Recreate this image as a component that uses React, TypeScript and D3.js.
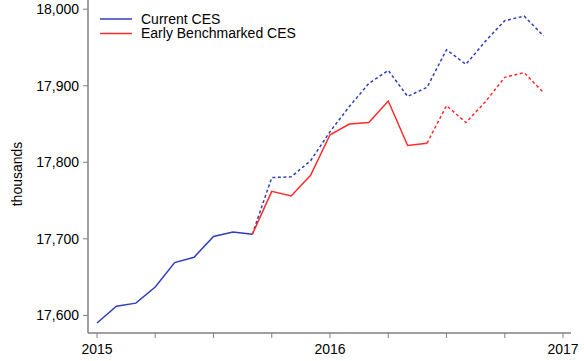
import React, { useRef, useEffect } from "react";
import * as d3 from "d3";

// monthly, Jan 2015 .. Dec 2016 (index 0..23)
const months = d3.range(24);
const currentCES = [
  17590, 17612, 17616, 17637, 17669, 17676, 17703, 17709, 17706, 17780, 17781, 17802,
  17840, 17873, 17903, 17920, 17886, 17898, 17947, 17928, 17958, 17985, 17991, 17965,
];
// starts at Sep 2015 (index 8)
const earlyCES = [
  17706, 17762, 17756, 17783, 17836, 17850, 17852, 17880, 17822, 17825, 17874, 17852,
  17879, 17911, 17917, 17891,
];
const earlyStart = 8;
const yTicks = [17600, 17700, 17800, 17900, 18000];
const xTickMonths = [0, 3, 6, 9, 12, 15, 18, 21, 24];
const xLabels: Record<number, string> = { 0: "2015", 12: "2016", 24: "2017" };

const BLUE = "#2f3fb8";
const RED = "#ff2a2a";
const AXIS = "#808080";

export default function App() {
  const svgRef = useRef<SVGSVGElement>(null);

  useEffect(() => {
    const svg = d3.select(svgRef.current);
    svg.selectAll("*").remove();
    const font = "Arial, 'Liberation Sans', sans-serif";

    const x = d3.scaleLinear().domain([0, 24]).range([97, 563]);
    const y = d3.scaleLinear().domain([17577, 18012]).range([333, 0]);

    // axes
    svg.append("line").attr("x1", 88).attr("x2", 88).attr("y1", y(18012)).attr("y2", 333)
      .attr("stroke", AXIS).attr("stroke-width", 1.5);
    svg.append("line").attr("x1", 88).attr("x2", 571).attr("y1", 333).attr("y2", 333)
      .attr("stroke", AXIS).attr("stroke-width", 1.5);

    const yg = svg.append("g");
    yg.selectAll("line").data(yTicks).join("line")
      .attr("x1", 83).attr("x2", 88).attr("y1", d => y(d)).attr("y2", d => y(d))
      .attr("stroke", AXIS);
    yg.selectAll("text").data(yTicks).join("text")
      .attr("x", 79).attr("y", d => y(d)).attr("dy", "0.35em")
      .attr("text-anchor", "end").attr("font-family", font).attr("font-size", 14)
      .text(d => d3.format(",")(d));

    const xg = svg.append("g");
    xg.selectAll("line").data(xTickMonths).join("line")
      .attr("x1", d => x(d)).attr("x2", d => x(d)).attr("y1", 333).attr("y2", 338)
      .attr("stroke", AXIS);
    xg.selectAll("text").data(xTickMonths.filter(m => xLabels[m])).join("text")
      .attr("x", d => x(d)).attr("y", 354)
      .attr("text-anchor", "middle").attr("font-family", font).attr("font-size", 14)
      .text(d => xLabels[d]);

    svg.append("text").attr("transform", "translate(22,174) rotate(-90)")
      .attr("text-anchor", "middle").attr("font-family", font).attr("font-size", 14)
      .text("thousands");

    const line = d3.line<[number, number]>().x(d => x(d[0])).y(d => y(d[1]));
    const cur = months.map(m => [m, currentCES[m]] as [number, number]);
    const early = earlyCES.map((v, i) => [earlyStart + i, v] as [number, number]);

    const draw = (pts: [number, number][], color: string, dashed: boolean) =>
      svg.append("path").attr("d", line(pts)).attr("fill", "none")
        .attr("stroke", color).attr("stroke-width", 1.5)
        .attr("stroke-dasharray", dashed ? "3,2.5" : null);

    // current CES: solid through Sep 2015, dashed after
    draw(cur.slice(0, 9), BLUE, false);
    draw(cur.slice(8), BLUE, true);
    // early benchmarked: solid through Jun 2016, dashed after
    draw(early.filter(d => d[0] <= 17), RED, false);
    draw(early.filter(d => d[0] >= 17), RED, true);

    // legend
    const legend = [
      { label: "Current CES", color: BLUE },
      { label: "Early Benchmarked CES", color: RED },
    ];
    const lg = svg.append("g").selectAll("g").data(legend).join("g")
      .attr("transform", (d, i) => `translate(100,${19 + i * 14.5})`);
    lg.append("line").attr("x1", 0).attr("x2", 32).attr("stroke", d => d.color).attr("stroke-width", 1.5);
    lg.append("text").attr("x", 41).attr("dy", "0.35em").attr("font-family", font)
      .attr("font-size", 14).text(d => d.label);
  }, []);

  return (
    <svg ref={svgRef} width={584} height={361}
      style={{ position: "absolute", left: 0, top: 0, background: "#fff" }} />
  );
}
